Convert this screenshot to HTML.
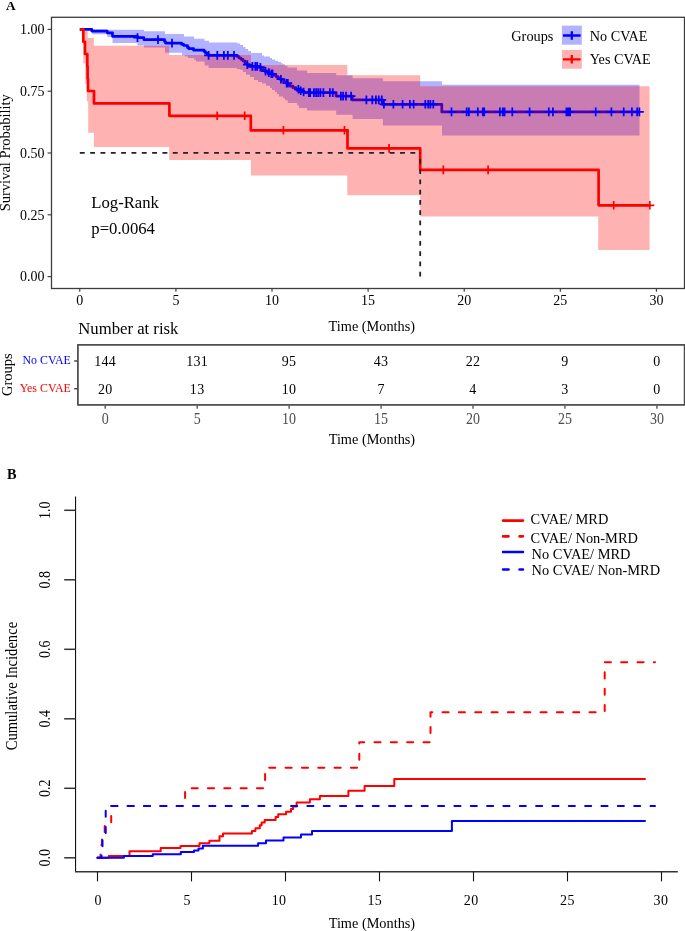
<!DOCTYPE html><html><head><meta charset="utf-8"><style>html,body{margin:0;padding:0;background:#fff;}svg{display:block;will-change:transform;}</style></head><body><svg width="685" height="931" viewBox="0 0 685 931" font-family='"Liberation Serif", serif'>
<rect width="685" height="931" fill="#fff"/>
<text x="6.0" y="10.3" font-size="13.3" font-weight="bold" fill="#000">A</text>
<path d="M79.80 29.30H91.80V31.10H107.30V32.80H112.50V36.30H137.50V37.60H143.80V39.60H164.50V41.50H165.50V43.10H181.60V44.30H183.70V45.50H187.50V47.60H188.90V48.70H193.60V50.20H204.10V51.50H205.50V53.00H207.00V54.30H208.50V55.40H237.00V56.50H239.00V58.00H241.00V59.30H243.00V61.00H245.00V62.80H247.00V64.60H249.00V66.40H258.00V67.20H261.00V68.60H263.00V69.90H265.00V71.20H268.00V72.60H270.00V73.80H273.00V75.20H276.00V76.60H278.00V78.00H280.00V79.20H282.00V80.50H284.00V81.80H286.00V83.20H288.00V84.60H290.00V86.20H293.00V87.70H296.00V89.30H299.00V90.80H302.00V92.00H304.00V92.60H336.10V96.10H352.40V99.90H382.50V104.30H441.80V111.90H639.00" fill="none" stroke="#0000ff" stroke-width="2.7" stroke-linejoin="round"/>
<path d="M79.80 29.40H83.30V41.80H85.00V54.00H87.30V66.40H87.60V78.80H88.00V91.00H94.00V103.40H169.40V115.80H250.80V130.30H347.50V148.40H420.20V169.90H598.60V205.30H649.60" fill="none" stroke="#ff0000" stroke-width="2.7" stroke-linejoin="round"/>
<path d="M79.80 29.30H106.70V29.70H144.00V31.30H165.00V34.10H184.00V36.50H194.00V38.80H204.50V40.80H209.00V42.60H237.50V43.50H240.00V45.00H243.00V47.00H245.50V49.00H248.00V51.00H251.00V52.90H262.00V55.50H264.00V56.60H270.00V58.00H272.00V59.50H275.00V60.80H278.00V62.00H281.00V63.20H283.00V64.20H285.00V65.70H287.50V67.60H297.00V70.50H307.20V72.90H336.20V75.30H352.60V78.20H382.90V81.20H442.00V84.80H639.50V135.50H442.00V125.40H382.90V119.10H352.60V114.70H336.20V110.60H307.00V108.00H299.00V105.40H297.20V102.90H287.70V100.30H285.00V98.30H283.00V96.40H279.00V94.20H277.00V92.00H275.00V90.00H272.00V88.00H270.00V85.80H266.00V83.60H262.00V82.10H258.00V79.90H254.00V77.00H250.00V74.80H246.00V71.90H243.00V69.70H240.00V68.90H237.00V68.00H208.60V65.40H204.60V61.50H196.00V59.80H194.00V58.00H188.00V56.50H185.00V55.30H182.00V52.80H165.00V47.50H144.00V45.50H137.50V43.00H112.50V37.10H107.30V34.30H92.30V29.30H79.80Z" fill="#0000ff" fill-opacity="0.3"/>
<path d="M83.30 30.50H85.30V30.50H86.80V30.50H87.70V37.90H88.20V37.90H93.90V45.80H169.20V55.00H251.00V64.90H347.30V75.20H420.20V86.30H598.20V86.30H649.60V250.00H598.20V216.60H420.20V195.20H347.30V175.50H251.00V160.00H169.20V146.90H93.90V132.70H88.20V101.30H87.70V101.30H86.80V83.80H85.30V63.50H83.30Z" fill="#ff0000" fill-opacity="0.3"/>
<path d="M133.10 37.60H141.90M137.50 33.30V41.90M153.60 39.60H162.40M158.00 35.30V43.90M167.60 43.10H176.40M172.00 38.80V47.40M204.20 55.40H213.00M208.60 51.10V59.70M212.90 55.40H221.70M217.30 51.10V59.70M219.50 55.40H228.30M223.90 51.10V59.70M223.40 55.40H232.20M227.80 51.10V59.70M229.60 55.40H238.40M234.00 51.10V59.70M242.90 64.60H251.70M247.30 60.30V68.90M248.00 66.40H256.80M252.40 62.10V70.70M250.90 66.40H259.70M255.30 62.10V70.70M252.80 66.40H261.60M257.20 62.10V70.70M256.00 67.20H264.80M260.40 62.90V71.50M261.10 71.20H269.90M265.50 66.90V75.50M264.40 72.60H273.20M268.80 68.30V76.90M267.00 73.80H275.80M271.40 69.50V78.10M268.10 73.80H276.90M272.50 69.50V78.10M276.50 79.20H285.30M280.90 74.90V83.50M282.30 83.20H291.10M286.70 78.90V87.50M283.40 83.20H292.20M287.80 78.90V87.50M294.00 89.30H302.80M298.40 85.00V93.60M296.30 90.80H305.10M300.70 86.50V95.10M299.20 92.00H308.00M303.60 87.70V96.30M304.40 92.60H313.20M308.80 88.30V96.90M305.80 92.60H314.60M310.20 88.30V96.90M309.50 92.60H318.30M313.90 88.30V96.90M311.70 92.60H320.50M316.10 88.30V96.90M313.80 92.60H322.60M318.20 88.30V96.90M316.00 92.60H324.80M320.40 88.30V96.90M319.00 92.60H327.80M323.40 88.30V96.90M325.50 92.60H334.30M329.90 88.30V96.90M328.40 92.60H337.20M332.80 88.30V96.90M336.50 96.10H345.30M340.90 91.80V100.40M338.70 96.10H347.50M343.10 91.80V100.40M341.60 96.10H350.40M346.00 91.80V100.40M346.70 96.10H355.50M351.10 91.80V100.40M362.00 99.90H370.80M366.40 95.60V104.20M367.90 99.90H376.70M372.30 95.60V104.20M371.50 99.90H380.30M375.90 95.60V104.20M374.40 99.90H383.20M378.80 95.60V104.20M377.40 99.90H386.20M381.80 95.60V104.20M379.50 104.30H388.30M383.90 100.00V108.60M389.00 104.30H397.80M393.40 100.00V108.60M398.20 104.30H407.00M402.60 100.00V108.60M405.50 104.30H414.30M409.90 100.00V108.60M409.20 104.30H418.00M413.60 100.00V108.60M420.90 104.30H429.70M425.30 100.00V108.60M423.80 104.30H432.60M428.20 100.00V108.60M426.00 104.30H434.80M430.40 100.00V108.60M428.90 104.30H437.70M433.30 100.00V108.60M447.10 111.90H455.90M451.50 107.60V116.20M462.30 111.90H471.10M466.70 107.60V116.20M464.50 111.90H473.30M468.90 107.60V116.20M473.40 111.90H482.20M477.80 107.60V116.20M478.40 111.90H487.20M482.80 107.60V116.20M479.80 111.90H488.60M484.20 107.60V116.20M495.50 111.90H504.30M499.90 107.60V116.20M498.40 111.90H507.20M502.80 107.60V116.20M500.20 111.90H509.00M504.60 107.60V116.20M507.90 111.90H516.70M512.30 107.60V116.20M525.20 111.90H534.00M529.60 107.60V116.20M544.40 111.90H553.20M548.80 107.60V116.20M548.50 111.90H557.30M552.90 107.60V116.20M562.00 111.90H570.80M566.40 107.60V116.20M563.70 111.90H572.50M568.10 107.60V116.20M564.90 111.90H573.70M569.30 107.60V116.20M565.70 111.90H574.50M570.10 107.60V116.20M591.30 111.90H600.10M595.70 107.60V116.20M607.00 111.90H615.80M611.40 107.60V116.20M619.30 111.90H628.10M623.70 107.60V116.20M627.50 111.90H636.30M631.90 107.60V116.20M632.80 111.90H641.60M637.20 107.60V116.20M635.00 111.90H643.80M639.40 107.60V116.20" fill="none" stroke="#0000ff" stroke-width="1.75"/>
<path d="M212.80 115.80H221.60M217.20 111.50V120.10M240.30 115.80H249.10M244.70 111.50V120.10M279.00 130.30H287.80M283.40 126.00V134.60M340.10 130.30H348.90M344.50 126.00V134.60M384.70 148.40H393.50M389.10 144.10V152.70M438.90 169.90H447.70M443.30 165.60V174.20M483.70 169.90H492.50M488.10 165.60V174.20M609.30 205.30H618.10M613.70 201.00V209.60M645.40 205.30H654.20M649.80 201.00V209.60" fill="none" stroke="#ff0000" stroke-width="1.7"/>
<path d="M79.8 152.8H420.2" fill="none" stroke="#222" stroke-width="1.8" stroke-dasharray="4.9 5.43"/>
<path d="M420.2 276.6V152.8" fill="none" stroke="#222" stroke-width="1.8" stroke-dasharray="4.9 5.35"/>
<rect x="51.5" y="17.3" width="633.0" height="271.2" fill="none" stroke="#3d3d3d" stroke-width="1.3"/>
<path d="M47.6 29.40H51.5" stroke="#333" stroke-width="1.1"/>
<text transform="translate(44.40 34.10) scale(1.0 1.1)" font-size="14" text-anchor="end" fill="#000">1.00</text>
<path d="M47.6 91.20H51.5" stroke="#333" stroke-width="1.1"/>
<text transform="translate(44.40 95.90) scale(1.0 1.1)" font-size="14" text-anchor="end" fill="#000">0.75</text>
<path d="M47.6 153.00H51.5" stroke="#333" stroke-width="1.1"/>
<text transform="translate(44.40 157.70) scale(1.0 1.1)" font-size="14" text-anchor="end" fill="#000">0.50</text>
<path d="M47.6 214.80H51.5" stroke="#333" stroke-width="1.1"/>
<text transform="translate(44.40 219.50) scale(1.0 1.1)" font-size="14" text-anchor="end" fill="#000">0.25</text>
<path d="M47.6 276.60H51.5" stroke="#333" stroke-width="1.1"/>
<text transform="translate(44.40 281.30) scale(1.0 1.1)" font-size="14" text-anchor="end" fill="#000">0.00</text>
<path d="M79.80 288.6V291.8" stroke="#333" stroke-width="1.1"/>
<text transform="translate(79.80 305.20) scale(1.0 1.1)" font-size="14" text-anchor="middle" fill="#000">0</text>
<path d="M175.90 288.6V291.8" stroke="#333" stroke-width="1.1"/>
<text transform="translate(175.90 305.20) scale(1.0 1.1)" font-size="14" text-anchor="middle" fill="#000">5</text>
<path d="M272.00 288.6V291.8" stroke="#333" stroke-width="1.1"/>
<text transform="translate(272.00 305.20) scale(1.0 1.1)" font-size="14" text-anchor="middle" fill="#000">10</text>
<path d="M368.10 288.6V291.8" stroke="#333" stroke-width="1.1"/>
<text transform="translate(368.10 305.20) scale(1.0 1.1)" font-size="14" text-anchor="middle" fill="#000">15</text>
<path d="M464.20 288.6V291.8" stroke="#333" stroke-width="1.1"/>
<text transform="translate(464.20 305.20) scale(1.0 1.1)" font-size="14" text-anchor="middle" fill="#000">20</text>
<path d="M560.30 288.6V291.8" stroke="#333" stroke-width="1.1"/>
<text transform="translate(560.30 305.20) scale(1.0 1.1)" font-size="14" text-anchor="middle" fill="#000">25</text>
<path d="M656.40 288.6V291.8" stroke="#333" stroke-width="1.1"/>
<text transform="translate(656.40 305.20) scale(1.0 1.1)" font-size="14" text-anchor="middle" fill="#000">30</text>
<text x="371.8" y="331.1" font-size="14.3" text-anchor="middle" fill="#000">Time (Months)</text>
<text transform="translate(9.9 152.7) rotate(-90) scale(1 1.04)" font-size="14.5" text-anchor="middle" fill="#000">Survival Probability</text>
<text x="511.3" y="40.7" font-size="14.3" fill="#000">Groups</text>
<rect x="561.9" y="25.6" width="19.9" height="19.1" fill="#0000ff" fill-opacity="0.3"/>
<path d="M563 35.5H580.6M571.8 31.3V39.7" stroke="#0000ff" stroke-width="2.3"/>
<rect x="561.9" y="50" width="19.9" height="18.7" fill="#ff0000" fill-opacity="0.3"/>
<path d="M563 59.3H580.6M571.8 55.1V63.5" stroke="#ff0000" stroke-width="2.3"/>
<text x="589.8" y="40.7" font-size="14.2" fill="#000">No CVAE</text>
<text x="589.8" y="64" font-size="14.2" fill="#000">Yes CVAE</text>
<text x="91.3" y="208.4" font-size="16.7" fill="#000">Log-Rank</text>
<text x="91.3" y="233.5" font-size="16.7" fill="#000">p=0.0064</text>
<text x="78.3" y="333.7" font-size="16.7" fill="#000">Number at risk</text>
<rect x="77.9" y="344.9" width="606.7" height="60.0" fill="none" stroke="#4a4a4a" stroke-width="1.7"/>
<path d="M74.2 361H77.9M74.2 388.7H77.9" stroke="#4a4a4a" stroke-width="1.5"/>
<text x="70.8" y="364.4" font-size="11.9" text-anchor="end" fill="#0000ff">No CVAE</text>
<text x="70.8" y="392.1" font-size="11.9" text-anchor="end" fill="#ff0000">Yes CVAE</text>
<text transform="translate(12.3 374.6) rotate(-90) scale(1 1.04)" font-size="14.5" text-anchor="middle" fill="#000">Groups</text>
<text transform="translate(105.20 365.90) scale(1.0 1.07)" font-size="14" text-anchor="middle" fill="#000" letter-spacing="0.3">144</text>
<text transform="translate(105.20 393.70) scale(1.0 1.07)" font-size="14" text-anchor="middle" fill="#000" letter-spacing="0.3">20</text>
<path d="M105.20 405.5V408.8" stroke="#4a4a4a" stroke-width="1.3"/>
<text transform="translate(105.20 424.10) scale(1.0 1.12)" font-size="14" text-anchor="middle" fill="#4d4d4d">0</text>
<text transform="translate(197.15 365.90) scale(1.0 1.07)" font-size="14" text-anchor="middle" fill="#000" letter-spacing="0.3">131</text>
<text transform="translate(197.15 393.70) scale(1.0 1.07)" font-size="14" text-anchor="middle" fill="#000" letter-spacing="0.3">13</text>
<path d="M197.15 405.5V408.8" stroke="#4a4a4a" stroke-width="1.3"/>
<text transform="translate(197.15 424.10) scale(1.0 1.12)" font-size="14" text-anchor="middle" fill="#4d4d4d">5</text>
<text transform="translate(289.10 365.90) scale(1.0 1.07)" font-size="14" text-anchor="middle" fill="#000" letter-spacing="0.3">95</text>
<text transform="translate(289.10 393.70) scale(1.0 1.07)" font-size="14" text-anchor="middle" fill="#000" letter-spacing="0.3">10</text>
<path d="M289.10 405.5V408.8" stroke="#4a4a4a" stroke-width="1.3"/>
<text transform="translate(289.10 424.10) scale(1.0 1.12)" font-size="14" text-anchor="middle" fill="#4d4d4d">10</text>
<text transform="translate(381.05 365.90) scale(1.0 1.07)" font-size="14" text-anchor="middle" fill="#000" letter-spacing="0.3">43</text>
<text transform="translate(381.05 393.70) scale(1.0 1.07)" font-size="14" text-anchor="middle" fill="#000" letter-spacing="0.3">7</text>
<path d="M381.05 405.5V408.8" stroke="#4a4a4a" stroke-width="1.3"/>
<text transform="translate(381.05 424.10) scale(1.0 1.12)" font-size="14" text-anchor="middle" fill="#4d4d4d">15</text>
<text transform="translate(473.00 365.90) scale(1.0 1.07)" font-size="14" text-anchor="middle" fill="#000" letter-spacing="0.3">22</text>
<text transform="translate(473.00 393.70) scale(1.0 1.07)" font-size="14" text-anchor="middle" fill="#000" letter-spacing="0.3">4</text>
<path d="M473.00 405.5V408.8" stroke="#4a4a4a" stroke-width="1.3"/>
<text transform="translate(473.00 424.10) scale(1.0 1.12)" font-size="14" text-anchor="middle" fill="#4d4d4d">20</text>
<text transform="translate(564.95 365.90) scale(1.0 1.07)" font-size="14" text-anchor="middle" fill="#000" letter-spacing="0.3">9</text>
<text transform="translate(564.95 393.70) scale(1.0 1.07)" font-size="14" text-anchor="middle" fill="#000" letter-spacing="0.3">3</text>
<path d="M564.95 405.5V408.8" stroke="#4a4a4a" stroke-width="1.3"/>
<text transform="translate(564.95 424.10) scale(1.0 1.12)" font-size="14" text-anchor="middle" fill="#4d4d4d">25</text>
<text transform="translate(656.90 365.90) scale(1.0 1.07)" font-size="14" text-anchor="middle" fill="#000" letter-spacing="0.3">0</text>
<text transform="translate(656.90 393.70) scale(1.0 1.07)" font-size="14" text-anchor="middle" fill="#000" letter-spacing="0.3">0</text>
<path d="M656.90 405.5V408.8" stroke="#4a4a4a" stroke-width="1.3"/>
<text transform="translate(656.90 424.10) scale(1.0 1.12)" font-size="14" text-anchor="middle" fill="#4d4d4d">30</text>
<text x="371.9" y="443.8" font-size="14.3" text-anchor="middle" fill="#000">Time (Months)</text>
<text x="7.0" y="478.7" font-size="14.3" font-weight="bold" fill="#000">B</text>
<path d="M75.55 496.6V871.8" fill="none" stroke="#111" stroke-width="1.1"/>
<path d="M75.0 871.8H677.8" fill="none" stroke="#333" stroke-width="1.5"/>
<path d="M64.2 510.30H75.6" stroke="#333" stroke-width="1.5"/>
<text transform="translate(49.8 510.30) rotate(-90) scale(1 1.16)" font-size="14" text-anchor="middle" fill="#000">1.0</text>
<path d="M64.2 579.80H75.6" stroke="#333" stroke-width="1.5"/>
<text transform="translate(49.8 579.80) rotate(-90) scale(1 1.16)" font-size="14" text-anchor="middle" fill="#000">0.8</text>
<path d="M64.2 649.30H75.6" stroke="#333" stroke-width="1.5"/>
<text transform="translate(49.8 649.30) rotate(-90) scale(1 1.16)" font-size="14" text-anchor="middle" fill="#000">0.6</text>
<path d="M64.2 718.80H75.6" stroke="#333" stroke-width="1.5"/>
<text transform="translate(49.8 718.80) rotate(-90) scale(1 1.16)" font-size="14" text-anchor="middle" fill="#000">0.4</text>
<path d="M64.2 788.30H75.6" stroke="#333" stroke-width="1.5"/>
<text transform="translate(49.8 788.30) rotate(-90) scale(1 1.16)" font-size="14" text-anchor="middle" fill="#000">0.2</text>
<path d="M64.2 857.80H75.6" stroke="#333" stroke-width="1.5"/>
<text transform="translate(49.8 857.80) rotate(-90) scale(1 1.16)" font-size="14" text-anchor="middle" fill="#000">0.0</text>
<path d="M97.50 871.8V881.4" stroke="#111" stroke-width="1.1"/>
<text transform="translate(98.10 904.80) scale(1.0 1.06)" font-size="14" text-anchor="middle" fill="#000" letter-spacing="0.4">0</text>
<path d="M191.50 871.8V881.4" stroke="#111" stroke-width="1.1"/>
<text transform="translate(187.10 904.80) scale(1.0 1.06)" font-size="14" text-anchor="middle" fill="#000" letter-spacing="0.4">5</text>
<path d="M285.50 871.8V881.4" stroke="#111" stroke-width="1.1"/>
<text transform="translate(279.10 904.80) scale(1.0 1.06)" font-size="14" text-anchor="middle" fill="#000" letter-spacing="0.4">10</text>
<path d="M379.50 871.8V881.4" stroke="#111" stroke-width="1.1"/>
<text transform="translate(374.80 904.80) scale(1.0 1.06)" font-size="14" text-anchor="middle" fill="#000" letter-spacing="0.4">15</text>
<path d="M473.50 871.8V881.4" stroke="#111" stroke-width="1.1"/>
<text transform="translate(471.20 904.80) scale(1.0 1.06)" font-size="14" text-anchor="middle" fill="#000" letter-spacing="0.4">20</text>
<path d="M567.50 871.8V881.4" stroke="#111" stroke-width="1.1"/>
<text transform="translate(567.50 904.80) scale(1.0 1.06)" font-size="14" text-anchor="middle" fill="#000" letter-spacing="0.4">25</text>
<path d="M661.50 871.8V881.4" stroke="#111" stroke-width="1.1"/>
<text transform="translate(661.00 904.80) scale(1.0 1.06)" font-size="14" text-anchor="middle" fill="#000" letter-spacing="0.4">30</text>
<text x="371.9" y="928.1" font-size="14.3" text-anchor="middle" fill="#000">Time (Months)</text>
<text transform="translate(17.3 686.1) rotate(-90) scale(1 1.117)" font-size="14.6" text-anchor="middle" fill="#000">Cumulative Incidence</text>
<path d="M97.50 857.80H108.80V855.90H129.50V851.20H160.70V848.00H180.50V845.90H199.50V843.20H209.40V840.80H219.50V836.20H223.00V833.60H251.90V831.00H255.40V828.30H259.80V825.20H261.60V822.50H264.70V819.90H275.60V816.90H278.20V814.30H286.10V811.70H291.00V809.00H293.10V806.40H296.60V802.60H309.90V799.20H319.90V796.10H348.40V790.80H364.60V785.90H394.30V778.90H645.00" fill="none" stroke="#ff0000" stroke-width="2.0" stroke-linecap="round" stroke-linejoin="round"/>
<path d="M97.50 857.80H100.50V845.00H102.00V834.00H104.70V825.00H111.20V806.00H185.10V788.20H265.10V767.80H359.30V742.30H430.50V712.30H604.70V662.20H655.00" fill="none" stroke="#ff0000" stroke-width="2.0" stroke-linecap="round" stroke-linejoin="round" stroke-dasharray="6.1 10.24" stroke-dashoffset="-0.3"/>
<path d="M97.30 857.80H123.90V855.90H152.80V854.20H180.80V852.10H194.00V850.50H198.50V848.50H202.90V845.80H258.10V843.20H266.00V840.60H283.50V837.60H301.00V834.50H312.00V831.10H451.90V821.00H645.00" fill="none" stroke="#0000ff" stroke-width="2.0" stroke-linecap="round" stroke-linejoin="round"/>
<path d="M97.30 857.80H101.50V847.00H102.50V835.00H105.70V806.00H655.00" fill="none" stroke="#0000ff" stroke-width="2.0" stroke-linecap="round" stroke-linejoin="round" stroke-dasharray="6.1 10.24" stroke-dashoffset="-0.4"/>
<path d="M503.1 520.6H522.9" stroke="#ff0000" stroke-width="2.7" stroke-linecap="round" stroke-linejoin="round"/>
<path d="M503.1 536.3H522.9" stroke="#ff0000" stroke-width="2.7" stroke-linecap="round" stroke-linejoin="round" stroke-dasharray="5.4 11.1"/>
<path d="M503.1 552H522.9" stroke="#0000ff" stroke-width="2.7" stroke-linecap="round" stroke-linejoin="round"/>
<path d="M503.1 569.5H522.9" stroke="#0000ff" stroke-width="2.7" stroke-linecap="round" stroke-linejoin="round" stroke-dasharray="5.4 11.1"/>
<text x="530.6" y="524.4" font-size="14.4" fill="#000">CVAE/ MRD</text>
<text x="530.6" y="542.8" font-size="14.4" fill="#000">CVAE/ Non-MRD</text>
<text x="531.6" y="558.7" font-size="14.4" fill="#000">No CVAE/ MRD</text>
<text x="531.6" y="575.3" font-size="14.4" fill="#000">No CVAE/ Non-MRD</text>
</svg></body></html>
